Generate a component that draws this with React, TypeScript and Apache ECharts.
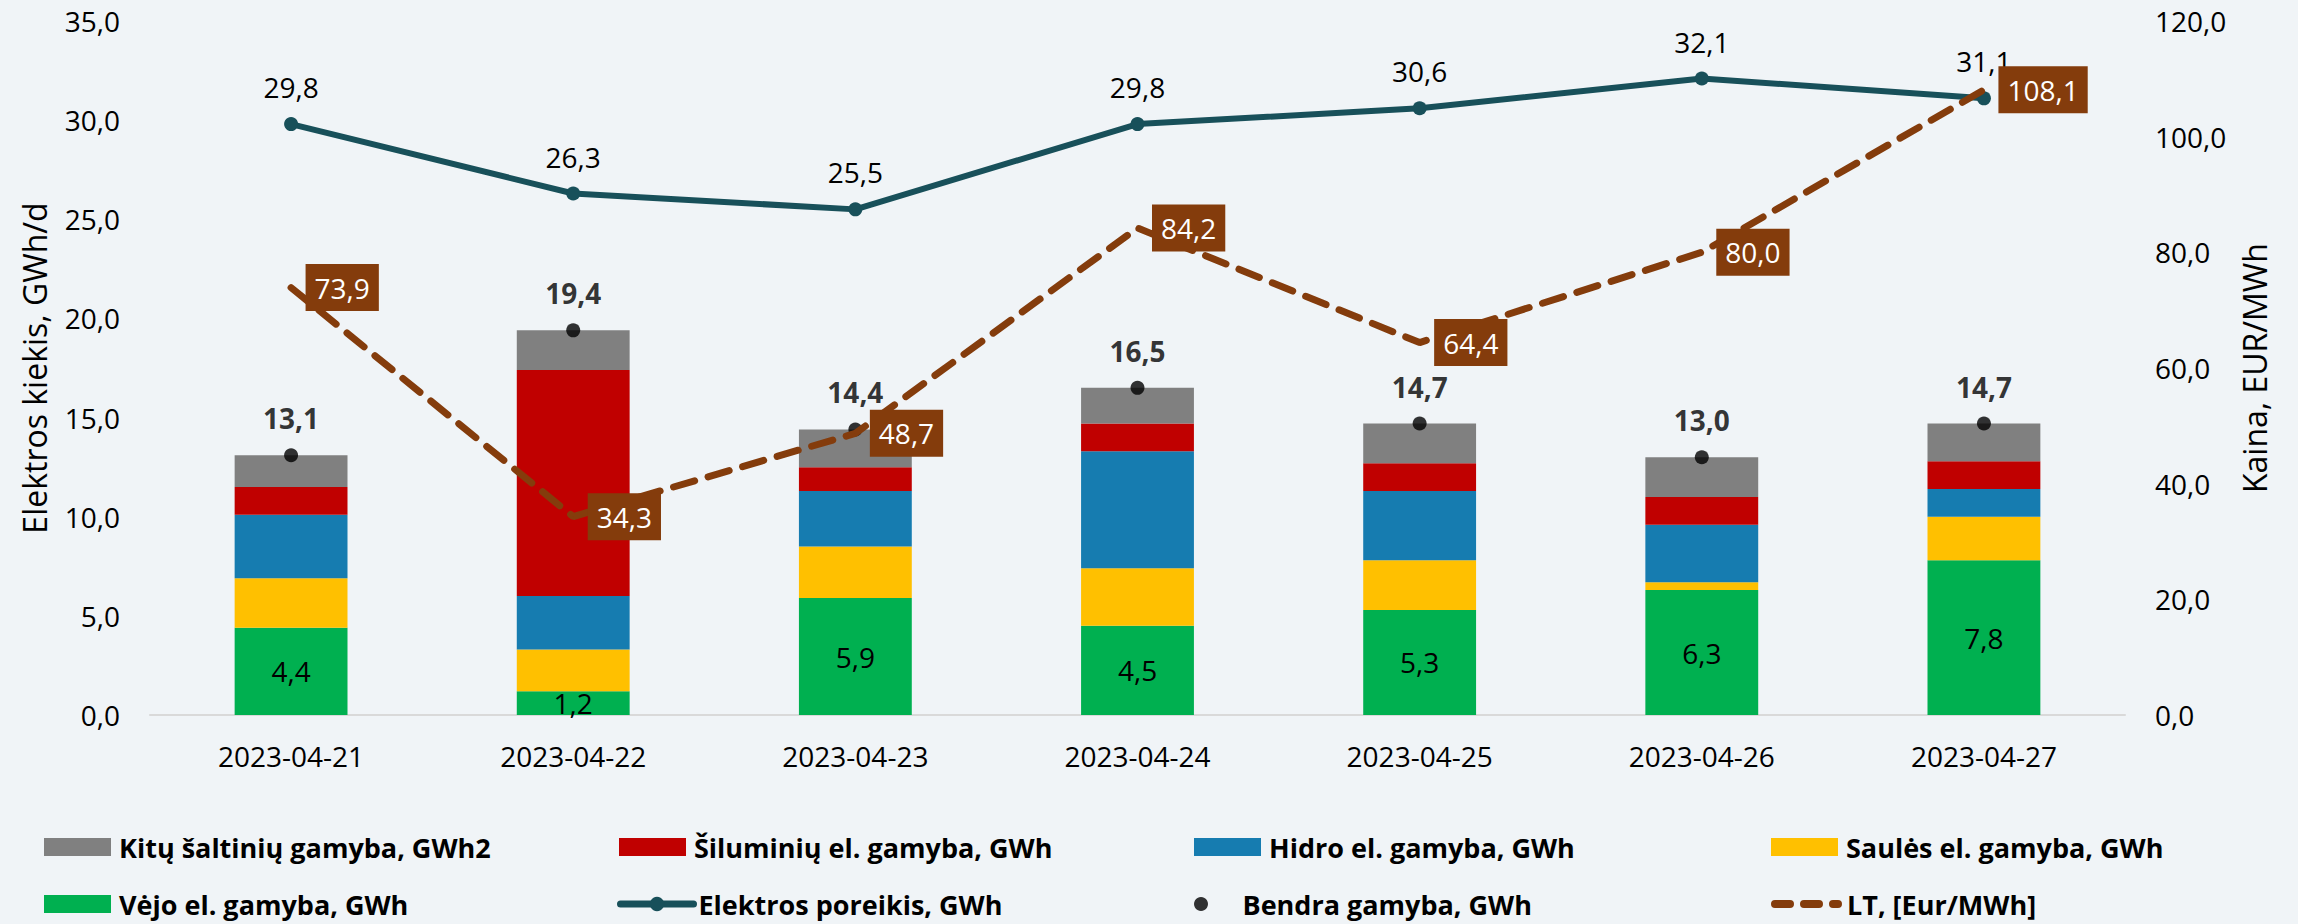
import React, { useEffect, useRef } from "react";
import * as echarts from "echarts";

const categories = ["2023-04-21", "2023-04-22", "2023-04-23", "2023-04-24", "2023-04-25", "2023-04-26", "2023-04-27"];
const windValues = [4.4, 1.2, 5.9, 4.5, 5.3, 6.3, 7.8];
const solarValues = [2.5, 2.1, 2.6, 2.9, 2.5, 0.4, 2.2];
const hydroValues = [3.2, 2.7, 2.8, 5.9, 3.5, 2.9, 1.4];
const thermalValues = [1.4, 11.4, 1.2, 1.4, 1.4, 1.4, 1.4];
const otherValues = [1.6, 2.0, 1.9, 1.8, 2.0, 2.0, 1.9];
const demandValues = [29.8, 26.3, 25.5, 29.8, 30.6, 32.1, 31.1];
const totalValues = [13.1, 19.4, 14.4, 16.5, 14.7, 13.0, 14.7];
const priceValues = [73.9, 34.3, 48.7, 84.2, 64.4, 80.0, 108.1];

const leftTicks = { min: 0, max: 35, interval: 5 };
const rightTicks = { min: 0, max: 120, interval: 20 };

const names = {
  other: "Kitų šaltinių gamyba, GWh2",
  thermal: "Šiluminių el. gamyba, GWh",
  hydro: "Hidro el. gamyba, GWh",
  solar: "Saulės el. gamyba, GWh",
  wind: "Vėjo el. gamyba, GWh",
  demand: "Elektros poreikis, GWh",
  total: "Bendra gamyba, GWh",
  price: "LT, [Eur/MWh]",
};

const FONT = "Open Sans";
const fmt = (v: number) => v.toFixed(1).replace(".", ",");
const dashIcon =
  "path://M4,0 H19 A4,4 0 0 1 19,8 H4 A4,4 0 0 1 4,0 Z M33,0 H48 A4,4 0 0 1 48,8 H33 A4,4 0 0 1 33,0 Z M62,0 H67 A4,4 0 0 1 67,8 H62 A4,4 0 0 1 62,0 Z";

export default function App() {
  const ref = useRef<HTMLDivElement>(null);
  useEffect(() => {
    if (!ref.current) return;
    const chart = echarts.init(ref.current, null, { renderer: "svg" });
    const legendText = (pad: number) => ({
      fontFamily: FONT,
      fontSize: 27,
      fontWeight: "bold",
      color: "#000",
      lineHeight: 30,
      padding: [0, 0, 0, pad],
    });
    const legendBase = (name: any, left: number, top: number, extra: any = {}) => ({
      data: [name],
      left,
      top,
      padding: 0,
      itemWidth: 67,
      itemHeight: 18,
      selectedMode: false,
      textStyle: legendText(3),
      ...extra,
    });
    const row1 = 832;
    const row2 = 889;
    chart.setOption({
      animation: false,
      backgroundColor: "#F0F4F7",
      textStyle: { fontFamily: FONT },
      grid: { left: 150, right: 173, top: 21, bottom: 209, containLabel: false },
      legend: [
        legendBase(names.other, 44, row1, { icon: "rect" }),
        legendBase(names.thermal, 619, row1, { icon: "rect" }),
        legendBase(names.hydro, 1194, row1, { icon: "rect" }),
        legendBase(names.solar, 1771, row1, { icon: "rect" }),
        legendBase(names.wind, 44, row2, { icon: "rect" }),
        legendBase(names.demand, 617, row2, {
          itemWidth: 73,
          lineStyle: { width: 7, cap: "round" },
          textStyle: legendText(0),
        }),
        legendBase(names.total, 1194, row2, { itemHeight: 14 }),
        legendBase({ name: names.price, icon: dashIcon }, 1771, row2, {
          itemWidth: 71,
          itemHeight: 8,
          itemStyle: { color: "#843C0C", borderWidth: 0 },
          textStyle: legendText(0),
        }),
      ],
      xAxis: {
        type: "category",
        data: categories,
        axisLine: { lineStyle: { color: "#D9D9D9", width: 2 } },
        axisTick: { show: false },
        axisLabel: { fontFamily: FONT, fontSize: 28, color: "#000", margin: 22, lineHeight: 38 },
      },
      yAxis: [
        {
          type: "value",
          ...leftTicks,
          name: "Elektros kiekis, GWh/d",
          nameLocation: "middle",
          nameGap: 100,
          nameTextStyle: { fontFamily: FONT, fontSize: 32, color: "#000" },
          splitLine: { show: false },
          axisLine: { show: false },
          axisTick: { show: false },
          axisLabel: { fontFamily: FONT, fontSize: 28, color: "#000", margin: 30, formatter: (v: number) => fmt(v) },
        },
        {
          type: "value",
          ...rightTicks,
          name: "Kaina, EUR/MWh",
          nameLocation: "middle",
          nameGap: 113,
          nameTextStyle: { fontFamily: FONT, fontSize: 32, color: "#000" },
          splitLine: { show: false },
          axisLine: { show: false },
          axisTick: { show: false },
          axisLabel: { fontFamily: FONT, fontSize: 28, color: "#000", margin: 30, formatter: (v: number) => fmt(v) },
        },
      ],
      series: [
        {
          name: names.wind,
          type: "bar",
          stack: "gen",
          barWidth: "40%",
          data: windValues,
          itemStyle: { color: "#00B050" },
          label: { show: true, position: "inside", fontFamily: FONT, fontSize: 28, color: "#000", formatter: (p: any) => fmt(p.value) },
        },
        { name: names.solar, type: "bar", stack: "gen", barWidth: "40%", data: solarValues, itemStyle: { color: "#FFC000" } },
        { name: names.hydro, type: "bar", stack: "gen", barWidth: "40%", data: hydroValues, itemStyle: { color: "#167CB0" } },
        { name: names.thermal, type: "bar", stack: "gen", barWidth: "40%", data: thermalValues, itemStyle: { color: "#C00000" } },
        { name: names.other, type: "bar", stack: "gen", barWidth: "40%", data: otherValues, itemStyle: { color: "#808080" } },
        {
          name: names.demand,
          type: "line",
          data: demandValues,
          symbol: "circle",
          symbolSize: 14,
          itemStyle: { color: "#18505A" },
          lineStyle: { color: "#18505A", width: 6 },
          label: { show: true, position: "top", distance: 16, fontFamily: FONT, fontSize: 28, color: "#000", formatter: (p: any) => fmt(p.value) },
          z: 3,
        },
        {
          name: names.total,
          type: "scatter",
          data: totalValues,
          symbol: "circle",
          symbolSize: 14,
          itemStyle: { color: "#000" },
          label: { show: true, position: "top", distance: 16, fontFamily: FONT, fontSize: 28, fontWeight: "bold", color: "#000", formatter: (p: any) => fmt(p.value) },
          z: 4,
        },
        {
          name: names.price,
          type: "line",
          yAxisIndex: 1,
          data: priceValues,
          symbol: "circle",
          symbolSize: 1,
          itemStyle: { color: "#843C0C" },
          lineStyle: { color: "#843C0C", width: 7, type: [22, 14], cap: "round" },
          label: {
            show: true,
            position: "right",
            distance: 14,
            fontFamily: FONT,
            fontSize: 28,
            color: "#fff",
            backgroundColor: "#843C0C",
            padding: [5, 9, 4, 9],
            lineHeight: 38,
            formatter: (p: any) => fmt(p.value),
          },
          z: 5,
        },
      ],
    });
    return () => chart.dispose();
  }, []);
  return <div ref={ref} style={{ position: "fixed", left: 0, top: 0, width: 2298, height: 924 }} />;
}
